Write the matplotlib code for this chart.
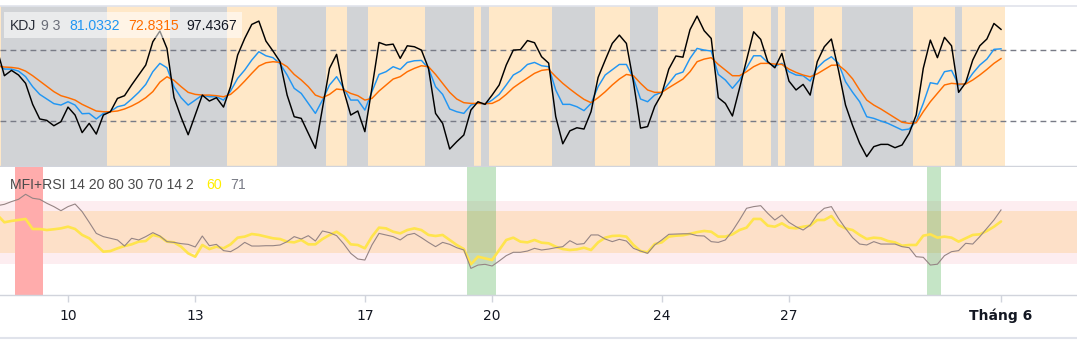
import numpy as np
import pandas as pd
import matplotlib
matplotlib.use("Agg")
import matplotlib.pyplot as plt
import matplotlib.dates as mdates
from matplotlib.lines import Line2D

# ---------------- data (4h candles, 8 May 08:00 -> 1 Jun 00:00) ----------------
start_time = "2024-05-08 08:00"
n_points = 143

k_values = [68.5, 64, 64, 62.3, 57.6, 49.2, 42.7, 38.8, 34.9, 33.7, 36.5, 33.7, 26.4, 26.7, 22, 26.7, 28.3, 32.3, 33.7, 38.8,
            44.4, 51.1, 61.8, 68.8, 65.1, 49, 39.9, 33.7, 37.9, 42.1, 40.7, 40.7, 37.9, 45.5, 56.2, 63.2, 71.6, 78.6, 75.2, 73.6,
            68.5, 59, 47.8, 43.5, 35.1, 26.7, 37.9, 50.6, 57.6, 47.8, 37.9, 37.9, 29.5, 45, 59.5, 61.8, 66, 63.7, 69.6, 71,
            71.3, 64.6, 49.2, 42.7, 30.4, 28.1, 26.7, 33.7, 35.7, 34.3, 37.9, 42.7, 50.6, 59, 62.3, 67.9, 69.6, 66.8, 66, 46.4,
            34.3, 34.3, 32.3, 29, 35.1, 49.2, 59, 63.5, 67.9, 67.9, 56.2, 38.8, 36.5, 42.1, 44.4, 52, 59.5, 61.5, 73, 81.4,
            80, 79.2, 59.5, 54.8, 47.8, 54.8, 65.1, 75.2, 75.2, 69.5, 66.5, 68.8, 61.8, 59, 58.4, 53.9, 65.1, 70.7, 74.4, 68.8,
            53.4, 44.5, 36.5, 23.9, 22.5, 20.3, 18.3, 15.5, 12.7, 13.5, 20, 35.1, 52.5, 51.4, 61.8, 62.9, 50.6, 52, 60.4, 67.4,
            72.4, 80.6, 81.0332]

d_values = [66.5, 65.7, 65.4, 64.6, 62.3, 58.4, 53.9, 49.4, 45, 41.6, 39.9, 37.9, 34.3, 31.5, 28.7, 28.1, 28.1, 28.7, 30.4, 32.9,
            36, 39.9, 45, 53, 57.5, 54.5, 49.2, 44.4, 42.7, 42.1, 42.1, 41.6, 40.7, 42.7, 47.8, 53.9, 60.4, 66.5, 69.3, 70.2,
            69.6, 66, 59.5, 54.8, 49.2, 42.1, 39.9, 42.7, 47.2, 46.5, 43.5, 41.6, 37.9, 39.3, 45.5, 50.6, 55.6, 57.6, 61.8, 64.6,
            66.8, 66, 59.5, 52, 44.4, 38.8, 35.7, 35.1, 35.1, 34.9, 35.1, 37.9, 42.7, 48.3, 52.5, 56.5, 60.4, 62.9, 63.7, 57.6,
            52, 47.2, 42.7, 38.5, 35.7, 39.9, 44.9, 50.6, 55.6, 59.5, 58.4, 52, 46.4, 44.4, 44.4, 48.3, 52, 55.6, 61.8, 70.2,
            72.4, 73.6, 67.9, 63.2, 58.4, 58.4, 61.8, 66, 68.8, 68.8, 68.2, 67.9, 64, 61.2, 59, 57.5, 60, 63.6, 67.2, 67.4,
            62.5, 55.8, 46.4, 37.9, 33.7, 30.4, 26.7, 23.1, 19.2, 18.3, 18.8, 28.1, 36.5, 43.5, 50.6, 52, 51.4, 51.4, 54.8, 59,
            63.7, 68.8, 72.8315]

j_values = [80, 58.4, 62.9, 59, 52, 34.3, 22, 20.8, 16.3, 19.7, 32, 25.3, 10.5, 18.3, 9.3, 25.3, 28.1, 39.3, 41.6, 50.6,
            59, 67.4, 87, 96, 81.4, 40, 23.4, 8.7, 25.3, 42.1, 37.1, 39.9, 32, 49.2, 75.8, 89.8, 101.6, 104.4, 87.6, 79.2,
            70.2, 42.1, 23.9, 22.5, 9.9, -2.7, 30.9, 64.6, 76.4, 46, 25.3, 28.7, 11.3, 48, 86.4, 84.2, 85, 73, 83.6, 82.8,
            80, 64.6, 26.7, 18.3, -3.3, 2.9, 8.5, 29.5, 36.5, 34.3, 42.1, 50.6, 67.4, 80, 80.3, 88, 86.2, 74.4, 69, 24,
            1.1, 12, 14.6, 13.5, 28.2, 57, 71.5, 85.6, 92.6, 85.6, 53, 14.3, 15.6, 32.5, 43, 64, 75, 74, 97.2, 108.6,
            96.3, 89.8, 39.9, 35.1, 24.5, 47.8, 71.6, 95.4, 89, 70.2, 65.1, 77.2, 53.9, 46.4, 51.1, 42.1, 70.2, 82.8, 89.3, 63.2,
            33.7, 16.5, 1.5, -9.7, -1.3, 0.6, 0.6, -2.2, 0.1, 9.9, 25.3, 64.6, 88.4, 73.6, 90.7, 83.6, 44.4, 52.5, 71.6, 83.6,
            89.3, 102.4, 97.4367]

# KDJ trend background runs (length, state) from the first candle
trend_runs = [(1, "up"), (15, "down"), (9, "up"), (8, "down"), (7, "up"), (7, "down"), (3, "up"), (3, "down"),
              (8, "up"), (7, "down"), (1, "up"), (1, "down"), (9, "up"), (6, "down"), (5, "up"), (4, "down"),
              (8, "up"), (4, "down"), (4, "up"), (1, "down"), (1, "up"), (4, "down"), (4, "up"), (10, "down"),
              (6, "up"), (1, "down"), (6, "up")]

mfi_values = [75.5, 76.8, 79.4, 81.6, 86.4, 82.6, 81.6, 77.8, 74.6, 70.7, 74.6, 77.1, 69.8, 59.6, 49, 45.9, 44.3, 42.7, 36.9, 44.3,
              42.7, 45.9, 49.7, 46.5, 41.1, 40.4, 39.2, 38.5, 36, 46.5, 37.2, 38.5, 32.5, 31.5, 35.3, 40.4, 36.9, 36.9, 37.2, 37.2,
              37.9, 41.1, 45.9, 43.6, 46.8, 41.7, 51.3, 49.7, 46.8, 39, 29.9, 24.5, 23.5, 37.9, 49, 47.5, 45.9, 42.7, 47.5, 49,
              44.9, 40.4, 36.3, 40.4, 38.5, 35.3, 33.1, 15.5, 18.7, 19.4, 17.8, 22.6, 27.7, 30.9, 30.9, 32.1, 34.7, 33.1, 34, 35.3,
              36.3, 42, 38.5, 39.2, 47.5, 47.5, 43.6, 41.1, 43.3, 41.7, 34.7, 32.1, 29.9, 37.9, 42.7, 48.1, 48.4, 48.6, 48.6, 46.8,
              46.5, 41.1, 40.4, 42.7, 51.3, 61.8, 73, 74.6, 75.5, 68.2, 61.8, 66.6, 59.6, 55.4, 52.2, 57, 67.2, 73, 74.6, 63.4,
              53.8, 44.9, 38.8, 37.9, 41.1, 38.8, 38.8, 38.8, 36.3, 35.3, 26.7, 26.1, 18.7, 19.5, 27.7, 31.5, 32.5, 39.5, 38.8, 45.9,
              53.8, 61.8, 71.4]

rsi_values = [66.6, 59.6, 60.9, 61.8, 62.8, 53.2, 53.2, 52.2, 52.9, 53.8, 55.4, 53.2, 47.5, 44.3, 37.9, 31.5, 32.1, 34.7, 36.9, 38.5,
              41.1, 41.7, 47.5, 45.9, 41.1, 40.4, 36.3, 29.9, 26.7, 37.9, 34, 36.3, 34.7, 38.5, 44.9, 45.9, 48.4, 47.5, 45.9, 44.3,
              43.6, 41.1, 40.4, 42.7, 38.5, 38.5, 43.6, 47.5, 50.6, 46, 38.5, 37.9, 34.7, 45.9, 54.5, 53.8, 50.6, 49, 52.2, 53.8,
              52.2, 47.5, 46.5, 47.5, 42.7, 37.9, 34, 19.4, 26.7, 25.1, 23.5, 33.1, 42.7, 44.9, 41.1, 40.4, 42.7, 40.1, 39.5, 36.3,
              34, 33.1, 33.7, 35.3, 33.1, 40.4, 44.9, 46.5, 46.8, 45.9, 37.9, 32.1, 30.9, 38.8, 40.4, 45.9, 46.8, 47.2, 48.6, 50.2,
              51.3, 50.6, 45.9, 45.9, 48.1, 52.2, 54.5, 62.8, 62.8, 56.4, 55.4, 58.6, 54.5, 53.8, 55.4, 56.4, 61.8, 61.8, 65.6, 57,
              53.8, 52.2, 47.5, 43.6, 44.9, 44.3, 41.7, 40.4, 37.2, 37.9, 37.9, 46.8, 48.1, 44.9, 45.9, 44.9, 41.1, 44.3, 47.5, 48.1,
              51.3, 55.4, 60.4]

tick_dates = ["2024-05-10", "2024-05-13", "2024-05-17", "2024-05-20", "2024-05-24", "2024-05-27", "2024-06-01"]
tick_labels = ["10", "13", "17", "20", "24", "27", "Tháng 6"]

kdj_params = "9 3"
mfi_params = "MFI+RSI 14 20 80 30 70 14 2"
mfi_levels = (20, 80)
rsi_levels = (30, 70)

# ---------------- figure ----------------
W, H = 1077, 340
fig = plt.figure(figsize=(W / 100, H / 100), dpi=100)
fig.patch.set_facecolor("white")

times = pd.date_range(start_time, periods=n_points, freq="4h")
tx = mdates.date2num(times.to_pydatetime())
half = (tx[1] - tx[0]) / 2.0

day_px = 42.41
ref = mdates.date2num(pd.Timestamp("2024-05-10").to_pydatetime())
xmin = ref - 68 / day_px
xmax = ref + (W - 68) / day_px

K = np.array(k_values); D = np.array(d_values); J = np.array(j_values)
MFI = np.array(mfi_values); RSI = np.array(rsi_values)

def fy(px):
    return 1 - px / H

# top panel: y 6 -> 166 px
ax1 = fig.add_axes([0, fy(166), 1, (166 - 6) / H])
ax1.set_xlim(xmin, xmax)
ax1.set_ylim(-17.6, 117.1)
ax1.set_facecolor("white")
pos = 0
for length, state in trend_runs:
    a = tx[pos] - half
    b = tx[pos + length - 1] + half
    ax1.axvspan(a, b, color="#ffe8c8" if state == "up" else "#d1d3d6", lw=0, zorder=0)
    pos += length
for lvl in (80, 20):
    ax1.axhline(lvl, color="#787b86", lw=1.0, dashes=(4.2, 3.0), zorder=1)
ax1.plot(tx, K, color="#2196f3", lw=1.05, zorder=3)
ax1.plot(tx, D, color="#ff6d00", lw=1.05, zorder=3)
ax1.plot(tx, J, color="#000000", lw=1.05, zorder=4)
ax1.set_xticks([]); ax1.set_yticks([])
for s in ("left", "right"):
    ax1.spines[s].set_visible(False)
ax1.spines["top"].set_color("#e0e3eb"); ax1.spines["top"].set_linewidth(1.2)
ax1.spines["bottom"].set_color("#d1d4dc"); ax1.spines["bottom"].set_linewidth(1.0)

# legend box
ax1.add_patch(plt.Rectangle((4 / W, 1 - (37.5 - 6) / 160), (242 - 4) / W, (37.5 - 12) / 160,
                            transform=ax1.transAxes, facecolor="white", alpha=0.55, lw=0, zorder=5))
font = "Liberation Sans"
fs = 10.1
base_y = fy(29.5)
fig.text(10 / W, base_y, "KDJ", color="#2a2e39", fontsize=fs, family=font, va="baseline", zorder=10)
fig.text(41 / W, base_y, kdj_params, color="#6a6d78", fontsize=fs, family=font, va="baseline", zorder=10)
fig.text(69.3 / W, base_y, f"{K[-1]:.4f}", color="#2196f3", fontsize=fs, family=font, va="baseline", zorder=10)
fig.text(128.3 / W, base_y, f"{D[-1]:.4f}", color="#ff6d00", fontsize=fs, family=font, va="baseline", zorder=10)
fig.text(186.7 / W, base_y, f"{J[-1]:.4f}", color="#131722", fontsize=fs, family=font, va="baseline", zorder=10)

# bottom panel: y 167 -> 295 px
ax2 = fig.add_axes([0, fy(295), 1, (295 - 167) / H])
ax2.set_xlim(xmin, xmax)
ax2.set_ylim(-9.95, 112.5)
ax2.set_facecolor("white")
ax2.axhspan(mfi_levels[0], mfi_levels[1], color="#fdedf0", lw=0, zorder=0)
ax2.axhspan(rsi_levels[0], rsi_levels[1], color="#fde0c8", lw=0, zorder=0.5)
for i in range(n_points):
    if MFI[i] > mfi_levels[1]:
        ax2.axvspan(tx[i] - half, tx[i] + half, color="#ffacac", lw=0, zorder=1)
    elif MFI[i] < mfi_levels[0]:
        ax2.axvspan(tx[i] - half, tx[i] + half, color="#4caf50", alpha=0.32, lw=0, zorder=1)
ax2.plot(tx, RSI, color="#ffe44d", lw=1.9, zorder=3, solid_capstyle="round")
ax2.plot(tx, MFI, color="#958484", lw=0.8, zorder=4)
ax2.set_yticks([])
for s in ("left", "right", "top"):
    ax2.spines[s].set_visible(False)
ax2.spines["bottom"].set_color("#d1d4dc"); ax2.spines["bottom"].set_linewidth(1.0)
ax2.set_xticks([mdates.date2num(pd.Timestamp(d).to_pydatetime()) for d in tick_dates])
ax2.set_xticklabels(tick_labels, fontsize=10, color="#131722", family="DejaVu Sans")
ax2.get_xticklabels()[-1].set_fontweight("bold")
ax2.tick_params(axis="x", direction="out", length=5, width=1, color="#d1d4dc", pad=5)

mb = fy(189)
fig.text(10 / W, mb, mfi_params, color="#4a4a4a", fontsize=fs, family=font, va="baseline", zorder=10)
fig.text(206.7 / W, mb, f"{int(RSI[-1])}", color="#ffee00", fontsize=fs, family=font, va="baseline", zorder=10)
fig.text(230 / W, mb, f"{int(MFI[-1])}", color="#787b86", fontsize=fs, family=font, va="baseline", zorder=10)

fig.add_artist(Line2D([0, 1], [fy(337.5), fy(337.5)], color="#e0e3eb", lw=1.5, transform=fig.transFigure))

fig.savefig("out.png", dpi=100, facecolor="white")
